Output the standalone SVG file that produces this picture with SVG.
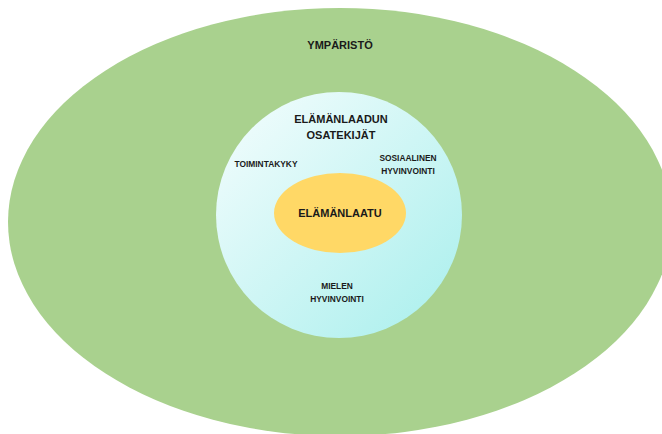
<svg xmlns="http://www.w3.org/2000/svg" width="662" height="434" viewBox="0 0 662 434">
<style>
text{font-family:"Liberation Sans",Arial,sans-serif;font-weight:bold;fill:#1a1a1a;text-anchor:middle}
.s{font-size:8.4px}
.m{font-size:11px}
</style>
<defs>
<linearGradient id="g" x1="0.15" y1="0.15" x2="0.85" y2="0.85">
<stop offset="0" stop-color="#eafbfb"/>
<stop offset="1" stop-color="#b3f1ef"/>
</linearGradient>
</defs>
<rect width="662" height="434" fill="#fff"/>
<g id="ymparisto">
<ellipse cx="340" cy="222" rx="332" ry="214" fill="#a9d18e"/>
<text x="340" y="49" style="font-size:11px">YMPÄRISTÖ</text>
</g>
<g id="osatekijat">
<circle cx="339" cy="215" r="123" fill="url(#g)"/>
<text class="m" x="341" y="123">ELÄMÄNLAADUN</text>
<text class="m" x="341" y="139">OSATEKIJÄT</text>
<text class="s" x="266" y="167">TOIMINTAKYKY</text>
<text class="s" x="408" y="161">SOSIAALINEN</text>
<text class="s" x="408" y="174">HYVINVOINTI</text>
<text class="s" x="337" y="289">MIELEN</text>
<text class="s" x="337" y="302">HYVINVOINTI</text>
</g>
<g id="elamanlaatu">
<ellipse cx="340" cy="213" rx="66" ry="40" fill="#ffd866"/>
<text class="m" x="340" y="217">ELÄMÄNLAATU</text>
</g>
<g id="connectors"/>
</svg>
